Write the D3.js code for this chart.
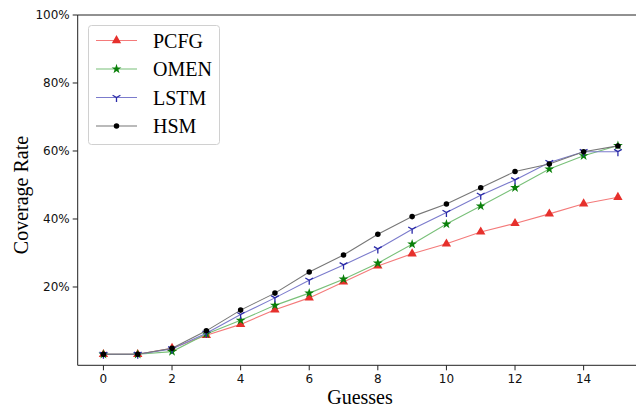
<!DOCTYPE html>
<html>
<head>
<meta charset="utf-8">
<title>Coverage Rate vs Guesses</title>
<script src="https://d3js.org/d3.v7.min.js"></script>
<style>
  body { margin: 0; background: #fff; }
  svg { display: block; }
</style>
</head>
<body>
<svg id="chart"></svg>
<script>
// data
const guesses = [0, 1, 2, 3, 4, 5, 6, 7, 8, 9, 10, 11, 12, 13, 14, 15];
const pcfg = [0.2, 0.2, 2.0, 5.8, 9.0, 13.3, 16.8, 21.5, 26.2, 29.8, 32.7, 36.2, 38.7, 41.5, 44.5, 46.4];
const omen = [0.2, 0.2, 1.0, 6.2, 10.2, 14.6, 18.2, 22.3, 27.0, 32.6, 38.5, 43.8, 49.2, 54.7, 58.6, 61.6];
const lstm = [0.2, 0.2, 1.8, 6.4, 11.9, 16.8, 22.0, 26.5, 31.2, 37.0, 41.9, 47.0, 51.5, 56.6, 59.8, 59.8];
const hsm = [0.2, 0.2, 2.0, 7.1, 13.2, 18.2, 24.4, 29.4, 35.5, 40.7, 44.4, 49.2, 54.0, 56.2, 59.8, 61.5];
const seriesNames = ["PCFG", "OMEN", "LSTM", "HSM"];
const xTicks = [0, 2, 4, 6, 8, 10, 12, 14];
const yTicks = [20, 40, 60, 80, 100];

const width = 636, height = 406;
const svg = d3.select("#chart").attr("width", width).attr("height", height);

// axes box runs off the right edge in the original
const axLeft = 77.7, axTop = 15, axBottom = 365.3;
const unit = 34.3;
const x = d3.scaleLinear().domain([-0.75, 15.75]).range([axLeft, axLeft + 16.5 * unit]);
const y = d3.scaleLinear().domain([-3.03, 100]).range([axBottom, axTop]);

const styles = {
  PCFG: { line: "#f47a7a", fill: "#e6302c", marker: "triangle" },
  OMEN: { line: "#79c079", fill: "#0a800a", marker: "star" },
  LSTM: { line: "#7b7bcc", fill: "#2a2aa8", marker: "tri" },
  HSM:  { line: "#777777", fill: "#000000", marker: "circle" }
};
const values = { PCFG: pcfg, OMEN: omen, LSTM: lstm, HSM: hsm };

function drawMarker(g, type, st) {
  if (type === "triangle") {
    g.append("path").attr("d", d3.symbol(d3.symbolTriangle, 38)()).attr("fill", st.fill);
  } else if (type === "star") {
    g.append("path").attr("d", d3.symbol(d3.symbolStar, 30)()).attr("fill", st.fill);
  } else if (type === "circle") {
    g.append("path").attr("d", d3.symbol(d3.symbolCircle, 24)()).attr("fill", st.fill);
  } else {
    const r = 4.5;
    g.append("path")
      .attr("d", `M0,0L0,${r}M0,0L${-r * 0.866},${-r * 0.5}M0,0L${r * 0.866},${-r * 0.5}`)
      .attr("stroke", st.fill).attr("stroke-width", 1.3).attr("fill", "none");
  }
}

// spines
svg.append("line").attr("x1", axLeft).attr("x2", width).attr("y1", axTop).attr("y2", axTop)
  .attr("stroke", "#222").attr("stroke-width", 1);
svg.append("line").attr("x1", axLeft).attr("x2", width).attr("y1", axBottom).attr("y2", axBottom)
  .attr("stroke", "#222").attr("stroke-width", 1);
svg.append("line").attr("x1", axLeft).attr("x2", axLeft).attr("y1", axTop).attr("y2", axBottom)
  .attr("stroke", "#222").attr("stroke-width", 1);

// x ticks
const xt = svg.append("g").selectAll("g").data(xTicks).enter().append("g")
  .attr("transform", d => `translate(${x(d)},${axBottom})`);
xt.append("line").attr("y2", 5).attr("stroke", "#222");
xt.append("text").attr("y", 17.8).attr("text-anchor", "middle")
  .attr("font-family", "DejaVu Sans").attr("font-size", 12).attr("fill", "#111").text(d => d);

// y ticks
const yt = svg.append("g").selectAll("g").data(yTicks).enter().append("g")
  .attr("transform", d => `translate(${axLeft},${y(d)})`);
yt.append("line").attr("x2", -5).attr("stroke", "#222");
yt.append("text").attr("x", -8).attr("dy", "0.35em").attr("text-anchor", "end")
  .attr("font-family", "DejaVu Sans").attr("font-size", 12).attr("fill", "#111").text(d => d + "%");

// axis labels
svg.append("text").attr("x", 360).attr("y", 404).attr("text-anchor", "middle")
  .attr("font-family", "Liberation Serif").attr("font-size", 20).text("Guesses");
svg.append("text").attr("transform", "translate(27.5,195) rotate(-90)").attr("text-anchor", "middle")
  .attr("font-family", "Liberation Serif").attr("font-size", 20).text("Coverage Rate");

// series
const line = d3.line().x((d, i) => x(guesses[i])).y(d => y(d));
const plot = svg.append("g");
seriesNames.forEach(name => {
  const st = styles[name];
  plot.append("path").datum(values[name]).attr("d", line)
    .attr("fill", "none").attr("stroke", st.line).attr("stroke-width", 1.1);
  values[name].forEach((v, i) => {
    const g = plot.append("g").attr("transform", `translate(${x(guesses[i])},${y(v)})`);
    drawMarker(g, st.marker, st);
  });
});

// legend
const lg = svg.append("g");
lg.append("rect").attr("x", 88.5).attr("y", 25.5).attr("width", 131).attr("height", 119)
  .attr("rx", 3).attr("fill", "#fff").attr("fill-opacity", 0.85).attr("stroke", "#d0d0d0");
seriesNames.forEach((name, i) => {
  const st = styles[name];
  const ry = 40.5 + i * 28.5;
  lg.append("line").attr("x1", 96).attr("x2", 137).attr("y1", ry).attr("y2", ry)
    .attr("stroke", st.line).attr("stroke-width", 1.1);
  drawMarker(lg.append("g").attr("transform", `translate(116.5,${ry})`), st.marker, st);
  lg.append("text").attr("x", 153).attr("y", ry + 7).attr("font-family", "Liberation Serif")
    .attr("font-size", 20).text(name);
});
</script>
</body>
</html>
